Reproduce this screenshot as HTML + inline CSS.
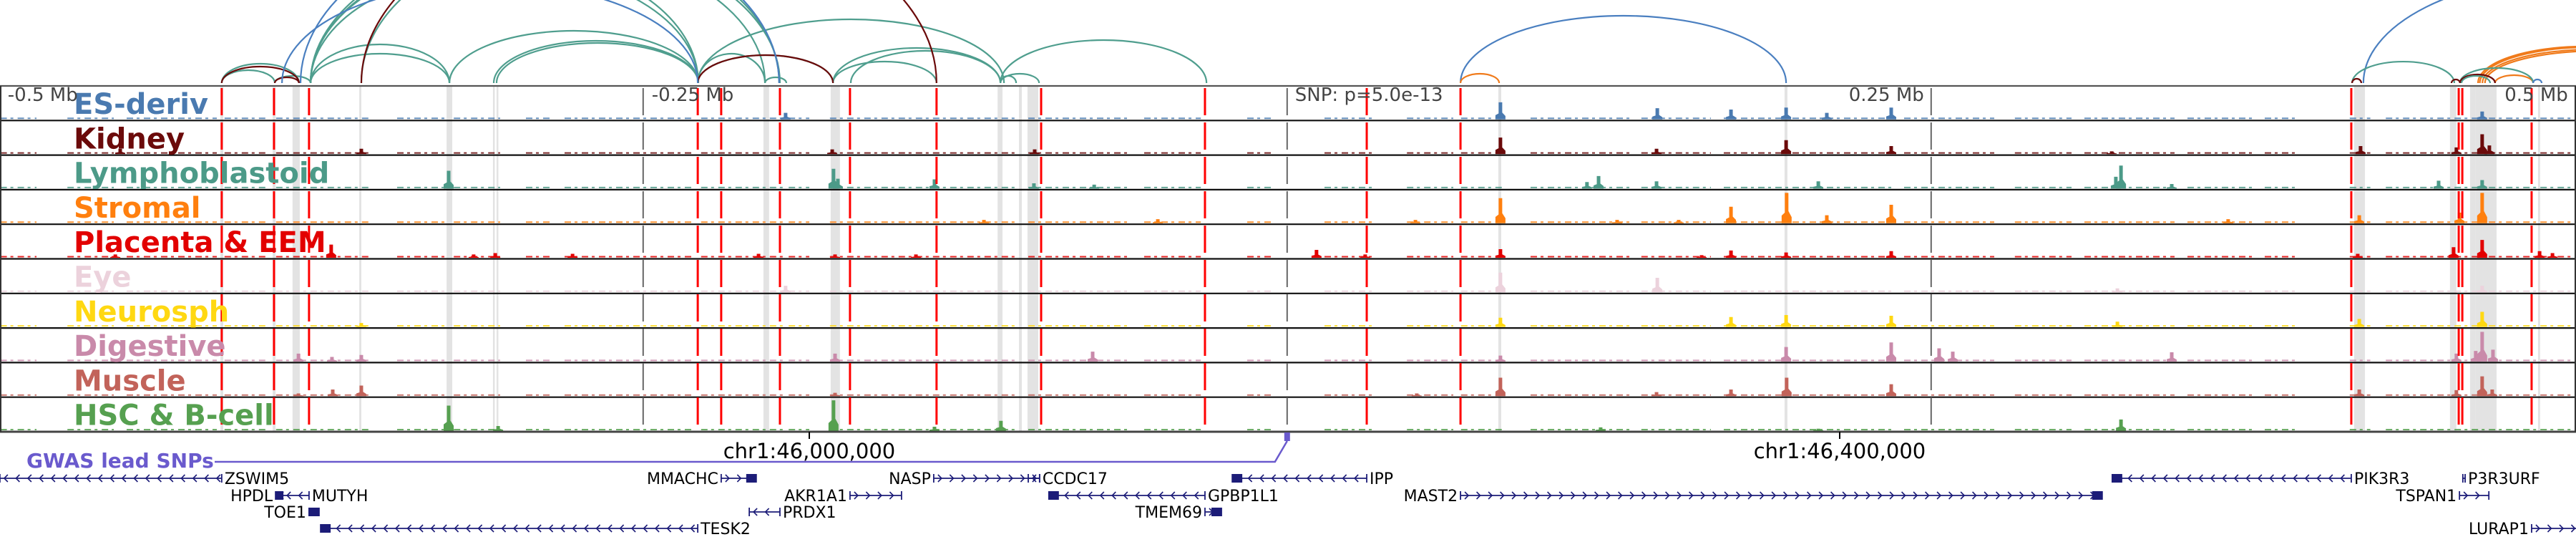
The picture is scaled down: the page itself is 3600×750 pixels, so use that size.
<!DOCTYPE html>
<html><head><meta charset="utf-8"><style>
html,body{margin:0;padding:0;background:#fff;}
svg{display:block;font-family:"DejaVu Sans","Liberation Sans",sans-serif;}
</style></head><body>
<svg id="chart" width="3600" height="750" viewBox="0 0 3600 750" xmlns="http://www.w3.org/2000/svg">
<g id="bands"></g>
<g id="tracks"></g>
<g id="vlines"></g>
<g id="arcs"></g>
<g id="labels"></g>
<g id="axis"></g>
<g id="genes"></g>
</svg>
<script>
// ---- data ----
const trackNames = ["ES-deriv","Kidney","Lymphoblastoid","Stromal","Placenta & EEM","Eye","Neurosph","Digestive","Muscle","HSC & B-cell"];
const trackColors = ["#4a7ab0","#6b0a0a","#4c9a88","#ff7f0e","#e20000","#ecd2dc","#ffd812","#c98aaa","#c2635a","#56a050"];
const peaksES = [[45990.8,10],[46268.3,26],[46329.2,17],[46357.8,15],[46379.2,18],[46395,10],[46420,18],[46649.4,12]];
const peaksKidney = [[45732.5,8],[45826.1,8],[46008.9,7],[46087.5,7],[46268.3,25],[46328.9,8],[46379.2,21],[46420,12],[46649.4,30],[46652.2,13],[46602.2,12],[46639.4,10],[46505.6,4]];
const peaksLympho = [[45860,27],[46009.4,30],[46011.1,15],[46048.6,14],[46087.2,8],[46110.6,6],[46301.9,10],[46306.4,19],[46328.9,11],[46391.7,11],[46509.2,35],[46507.2,18],[46528.9,7],[46649.4,13],[46632.5,12]];
const peaksStromal = [[46067.8,5],[46135.3,6],[46268.3,38],[46235.3,5],[46313.6,5],[46337.5,5],[46357.8,25],[46379.4,46],[46395,12],[46420,28],[46550.8,6],[46601.7,12],[46640.6,16],[46649.4,46]];
const peaksPlacenta = [[45730.6,5],[45814.4,20],[45908.1,6],[45980.3,6],[46010,5],[45869.7,5],[45878.1,7],[46041.4,5],[46196.9,12],[46215.8,5],[46268.3,13],[46346.4,4],[46357.8,11],[46379.2,8],[46420,10],[46601.1,6],[46638.3,16],[46649.4,27],[46671.7,10],[46676.7,7]];
const peaksEye = [[45990.8,10],[46268.3,30],[46329.2,22],[46507.8,6],[46649.4,10]];
const peaksNeuro = [[45826.1,6],[46268.3,14],[46357.8,15],[46379.2,18],[46420,17],[46507.8,8],[46649.4,23],[46601.7,12]];
const peaksDigestive = [[45801.7,12],[45814.7,7],[45826.1,10],[46010,12],[46110,15],[46268.3,9],[46379.2,22],[46420,29],[46438.6,20],[46443.9,15],[46528.9,14],[46649.4,45],[46653.6,18],[46646.9,16],[46639.4,12]];
const peaksMuscle = [[45815,10],[45826.1,16],[45801.7,4],[46010,5],[46268.3,28],[46328.9,6],[46235.8,4],[46357.8,10],[46379.4,28],[46420,18],[46649.4,30],[46653.3,10],[46601.7,10],[46639.4,9]];
const peaksHSC = [[45860,38],[45879.2,7],[46009.4,46],[46074.4,15],[46048.6,6],[46307.2,5],[46509.2,17],[46391.7,3]];
const trackPeaks = [peaksES,peaksKidney,peaksLympho,peaksStromal,peaksPlacenta,peaksEye,peaksNeuro,peaksDigestive,peaksMuscle,peaksHSC];
const coverage = [[45686,45700],[45712,45730],[45735,45770],[45773,45790],[45793,45830],[45840,45860],[45862,45880],[45890,45900],[45905,45955],[45958,45990],[45992,46000],[46008,46080],[46085,46125],[46130,46152],[46170,46180],[46200,46220],[46232,46250],[46253,46270],[46280,46320],[46323,46350],[46355,46420],[46425,46460],[46468,46490],[46495,46530],[46535,46560],[46565,46578],[46598,46606],[46612,46690]];
const redLines = [45771.9,45792.2,45805.8,45956.7,45965.8,45988.6,46015.8,46049.4,46090,46153.6,46216.4,46252.8,46598.6,46640.3,46641.7,46668.6];
const bands = [[45771.4,45772.5],[45791.7,45792.8],[45799.4,45802.2],[45825.3,45826.1],[45859.2,45861.4],[45877.2,45877.8],[45878.6,45879.2],[45982.2,45984.4],[46008.3,46011.9],[46073.1,46075],[46081.4,46082.5],[46084.7,46088.9],[46267.5,46268.6],[46378.6,46379.7],[46599.7,46603.9],[46636.9,46639.4],[46644.7,46646.9],[46646.9,46655],[46671.1,46671.9]];
const snpPos = 46185.5;
const mbTicks = [-0.5,-0.25,0.25,0.5];
const mbTickLabels = ["-0.5 Mb","-0.25 Mb","0.25 Mb","0.5 Mb"];
const coordTicks = [46000,46400];
const coordTickLabels = ["chr1:46,000,000","chr1:46,400,000"];
const arcStarts = [45771.9,45771.9,45792.5,45806.4,45806.4,45806.4,45806.4,45806.4,45860.3,45877.5,45878.6,45956.7,45956.7,45956.7,46009.2,46009.2,46016.1,46074.2,46074.2,46074.2,45982.8,45806.4,45826.1,45771.9,45792.5,45826.1,45956.7,45795.3,45802.5,46252.8,46603.3,46252.8,46654.4,46647.8,46648.5,46649.5,46650.5,46598.9,46640.8,46598.9,46637.5,46640.8,46641.4,46669.2];
const arcEnds   = [45792.5,45801.9,45806.4,45860.3,45860.3,45956.9,45956.9,45988.6,45956.9,45956.9,45956.9,45982.8,46009.2,46075.6,46049.4,46074.2,46074.2,46089.2,46080.3,46154.2,45991.1,45982.8,45988.3,45801.9,45801.9,46049.4,46009.2,45956.7,45988.3,46379.2,46769.2,46267.8,46669.2,46730.3,46733.1,46735.8,46738.6,46638.6,46669.2,46602.5,46640.8,46654.4,46652.5,46672.5];
const arcHeights= [18,27,10,41,54,160,175,200,73,59,56,41,39,89,30,49,45,13,10,60,8,190,200,23,8,250,39,140,220,94,150,13,11,51,50,47,45,30,21,6,5,12,10,5];
const arcColors = ["t","t","t","t","t","t","t","t","t","t","t","t","t","t","t","t","t","t","t","t","t","t","t","m","m","m","m","b","b","b","b","o","o","o","o","o","o","t","t","m","m","m","t","b"];
const geneNames = ["ZSWIM5","MMACHC","NASP","CCDC17","IPP","PIK3R3","P3R3URF","HPDL","MUTYH","AKR1A1","GPBP1L1","MAST2","TSPAN1","TOE1","PRDX1","TMEM69","TESK2","LURAP1"];
const geneStarts = [45685.8,45965.8,46048.3,46085.0,46164.2,46505.8,46641.9,45792.8,45795.6,46015.8,46093.0,46252.8,46640.6,45805.8,45976.7,46153.6,45810.3,46668.6];
const geneEnds   = [45771.9,45979.4,46089.4,46089.4,46216.4,46598.6,46642.8,45795.6,45805.8,46035.8,46153.6,46501.9,46652.0,45809.7,45988.6,46160.0,45956.7,46691.4];
const geneStrands= ["-","+","+","-","-","-","+","-","-","+","-","+","+","-","-","+","-","+"];
const geneRows   = [0,0,0,0,0,0,0,1,1,1,1,1,1,2,2,2,3,3];
const geneLabelSide = ["r","l","l","r","r","r","r","l","r","l","r","l","l","l","r","l","r","l"];
const geneBox = ["","e","","","s","s","","s","","","s","e","","s","","e","s",""];

// ---- scales ----
const X = kb => 1131 + (kb - 46000) * 3.6;
const trackTop = 120, trackH = 48.3, nTracks = 10;
const TY = i => trackTop + i * trackH;
const YV = v => v * 0.92;
const NS = "http://www.w3.org/2000/svg";
function mk(tag, attrs, parent, text){
  const e = document.createElementNS(NS, tag);
  for (const k in attrs) e.setAttribute(k, attrs[k]);
  if (text !== undefined) e.textContent = text;
  parent.appendChild(e); return e;
}
const gB = document.getElementById('bands'), gT = document.getElementById('tracks'),
      gV = document.getElementById('vlines'), gA = document.getElementById('arcs'),
      gL = document.getElementById('labels'), gX = document.getElementById('axis'),
      gG = document.getElementById('genes');
const bottom = TY(nTracks);

bands.forEach(b => {
  const r = mk('rect', {x: X(b[0]), y: trackTop, width: Math.max(2.5, X(b[1]) - X(b[0])), height: bottom - trackTop, fill: '#e3e3e3'}, gB);
  
  
});

for (let i = 0; i < nTracks; i++) {
  const g = mk('g', {}, gT);
  
  
  const base = TY(i + 1) - 1.5;
  coverage.forEach(s => {
    const c = mk('line', {x1: X(s[0]), x2: X(s[1]), y1: base - 1.5, y2: base - 1.5, stroke: trackColors[i], 'stroke-width': 2, 'stroke-dasharray': '9 5 4 6', opacity: 0.85}, g);
    
    
  });
  trackPeaks[i].forEach(p => {
    const x = X(p[0]), h = YV(p[1]);
    const pk = mk('path', {d: `M${x-7},${base} L${x-7},${base-h*0.25} L${x-2.5},${base-h*0.35} L${x-2.5},${base-h} L${x+2.5},${base-h} L${x+2.5},${base-h*0.4} L${x+7},${base-h*0.2} L${x+7},${base} Z`, fill: trackColors[i]}, g);
    
    
  });
  const ln = mk('line', {x1: 0, x2: 3600, y1: TY(i), y2: TY(i), stroke: i === 0 ? '#555' : '#111', 'stroke-width': 2.2}, gT);
  
  
}
const bl = mk('line', {x1: 0, x2: 3600, y1: bottom, y2: bottom, stroke: '#444', 'stroke-width': 3}, gT);


mk('line', {x1: 1, x2: 1, y1: trackTop, y2: bottom, stroke: '#333', 'stroke-width': 2}, gT);
mk('line', {x1: 3599, x2: 3599, y1: trackTop, y2: bottom, stroke: '#333', 'stroke-width': 2}, gT);

redLines.forEach(p => {
  const l = mk('line', {x1: X(p), x2: X(p), y1: trackTop + 3, y2: bottom, stroke: '#ff0000', 'stroke-width': 3, 'stroke-dasharray': '38 10'}, gV);
  
  
});
mbTicks.concat([0]).forEach(m => {
  const x = X(snpPos + m * 1000);
  if (x < 2 || x > 3598) return;
  const l = mk('line', {x1: x, x2: x, y1: trackTop + 3, y2: bottom, stroke: '#666', 'stroke-width': 2, 'stroke-dasharray': '38 10'}, gV);
  
  
});

const arcCol = {t: '#4f9e8e', m: '#6b0a0a', b: '#4a7fc0', o: '#f07a1a'};
for (let i = 0; i < arcStarts.length; i++) {
  const x1 = X(arcStarts[i]), x2 = X(arcEnds[i]), h = arcHeights[i], r = (x2 - x1) / 2;
  const a = mk('path', {d: `M${x1},116 A${r},${h} 0 0 1 ${x2},116`, fill: 'none', stroke: arcCol[arcColors[i]], 'stroke-width': 2.2}, gA);
  
  
}

for (let i = 0; i < nTracks; i++) {
  const t = mk('text', {x: 103, y: TY(i) + 39, 'font-size': 40, 'font-weight': 'bold', fill: trackColors[i]}, gL, trackNames[i]);
  
  
}
mbTicks.forEach((m, i) => {
  const x = X(snpPos + m * 1000);
  const neg = m < 0;
  const t = mk('text', {x: neg ? Math.max(8, x + 12) : x - 10, y: 141, 'font-size': 26, fill: '#444', 'text-anchor': neg ? 'start' : 'end'}, gL, mbTickLabels[i]);
  
  
});
const snpT = mk('text', {x: X(snpPos) + 11, y: 141, 'font-size': 26, fill: '#444'}, gL, 'SNP: p=5.0e-13');



coordTicks.forEach((c, i) => {
  const x = X(c);
  const tk = mk('line', {x1: x, x2: x, y1: bottom, y2: bottom + 10, stroke: '#000', 'stroke-width': 2}, gX);
  
  
  const t = mk('text', {x: x, y: 640, 'font-size': 29, fill: '#000', 'text-anchor': 'middle'}, gX, coordTickLabels[i]);
  
  
});

const sx = X(snpPos);
const gw = mk('text', {x: 37, y: 653, 'font-size': 28, 'font-weight': 'bold', fill: '#6a5acd'}, gX, 'GWAS lead SNPs');


const gl = mk('polyline', {points: `300,645 ${sx-17},645 ${sx},616`, fill: 'none', stroke: '#6a5acd', 'stroke-width': 2.5}, gX);


const gm = mk('rect', {x: sx - 4, y: 604, width: 8, height: 12, fill: '#6a5acd'}, gX);



const rowY = [668, 692, 715, 738];
for (let i = 0; i < geneNames.length; i++) {
  const g = mk('g', {}, gG);
  
  
  const x1 = X(geneStarts[i]), x2 = X(geneEnds[i]), y = rowY[geneRows[i]];
  mk('line', {x1: x1, x2: x2, y1: y, y2: y, stroke: '#1c1c78', 'stroke-width': 1.8}, g);
  let d = '';
  for (let x = x1 + 6; x < x2 - 4; x += 16.5) {
    if (geneStrands[i] === '-') d += `M${x+5},${y-5} L${x},${y} L${x+5},${y+5} `;
    else d += `M${x},${y-5} L${x+5},${y} L${x},${y+5} `;
  }
  if (d) mk('path', {d: d, fill: 'none', stroke: '#1c1c78', 'stroke-width': 1.6}, g);
  mk('line', {x1: x1, x2: x1, y1: y - 6, y2: y + 6, stroke: '#1c1c78', 'stroke-width': 1.8}, g);
  mk('line', {x1: x2, x2: x2, y1: y - 6, y2: y + 6, stroke: '#1c1c78', 'stroke-width': 1.8}, g);
  if (geneBox[i] === 's') mk('rect', {x: x1, y: y - 6, width: Math.min(14, x2 - x1), height: 12, fill: '#1c1c78'}, g);
  if (geneBox[i] === 'e') mk('rect', {x: x2 - Math.min(14, x2 - x1), y: y - 6, width: Math.min(14, x2 - x1), height: 12, fill: '#1c1c78'}, g);
  const right = geneLabelSide[i] === 'r';
  const t = mk('text', {x: right ? x2 + 4 : x1 - 4, y: y + 8, 'font-size': 22, fill: '#000', 'text-anchor': right ? 'start' : 'end'}, g, geneNames[i]);
  
  
}
</script>
</body></html>
